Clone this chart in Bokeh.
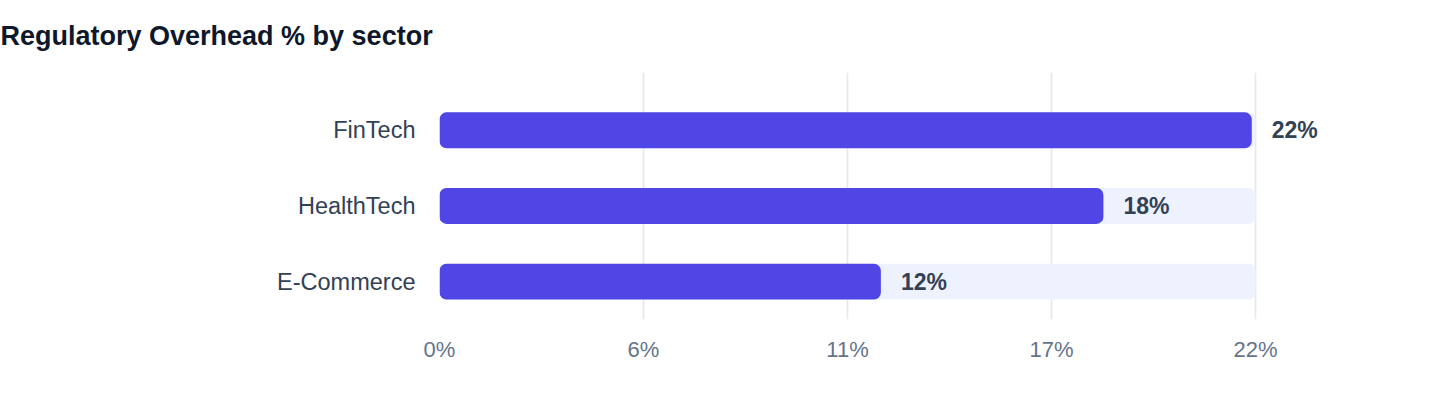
from bokeh.plotting import figure
from bokeh.models import ColumnDataSource, FixedTicker, Range1d
from bokeh.embed import file_html
from bokeh.resources import INLINE
from bokeh.core.properties import value

# ---- data ----
categories = ["FinTech", "HealthTech", "E-Commerce"]
values = [21.9, 17.9, 11.9]
track_max = 22
x_ticks = [0, 5.5, 11, 16.5, 22]
x_tick_labels = ["0%", "6%", "11%", "17%", "22%"]
title_text = "Regulatory Overhead % by sector"

# ---- layout ----
W, H = 1424, 392
border_left, border_top = 439, 71
frame_h = 248
border_bottom = H - border_top - frame_h
px_per_unit = 816 / track_max
frame_w = 946
border_right = W - border_left - frame_w
x_end = frame_w / px_per_unit
row_px = 76
y_start = -0.5
y_end = y_start + frame_h / row_px

n = len(categories)
ypos = [n - 1 - i for i in range(n)]
labels = [f"{round(v)}%" for v in values]

src = ColumnDataSource(dict(y=ypos, v=values, track=[track_max] * n, lab=labels))

p = figure(width=W, height=H, output_backend="svg", toolbar_location=None,
           x_range=Range1d(0, x_end), y_range=Range1d(y_start, y_end),
           min_border_left=border_left, min_border_right=border_right,
           min_border_top=border_top, min_border_bottom=border_bottom)

bh = 36 / row_px
p.hbar(y="y", left=0, right="track", height=bh, source=src,
       fill_color="#eef2ff", line_color=None, border_radius=7)
p.hbar(y="y", left=0, right="v", height=bh, source=src,
       fill_color="#4f46e5", line_color=None, border_radius=7)
p.text(x="v", y="y", text="lab", source=src, x_offset=20,
       text_align="left", text_baseline="middle",
       text_font=value("Liberation Sans"), text_font_style="bold",
       text_font_size="23px", text_color="#334155")

# axes
xa = p.xaxis[0]
xa.ticker = FixedTicker(ticks=x_ticks)
xa.major_label_overrides = {t: l for t, l in zip(x_ticks, x_tick_labels)}
xa.axis_line_color = None
xa.major_tick_line_color = None
xa.minor_tick_line_color = None
xa.major_label_text_font = "Liberation Sans"
xa.major_label_text_font_size = "22px"
xa.major_label_text_color = "#64748b"
xa.major_label_standoff = 11

ya = p.yaxis[0]
ya.ticker = FixedTicker(ticks=ypos)
ya.major_label_overrides = {y: c for y, c in zip(ypos, categories)}
ya.axis_line_color = None
ya.major_tick_line_color = None
ya.minor_tick_line_color = None
ya.major_label_text_font = "Liberation Sans"
ya.major_label_text_font_size = "23.5px"
ya.major_label_text_color = "#334155"
ya.major_label_standoff = 18

p.xgrid.ticker = FixedTicker(ticks=x_ticks)
p.xgrid.grid_line_color = "#e2e8f0"
p.xgrid.grid_line_width = 1.6
p.ygrid.grid_line_color = None
p.outline_line_color = None

p.title.text = title_text
p.title.align = "left"
p.title.vertical_align = "top"
p.title.offset = -border_left
p.title.standoff = 40
p.title.text_font = "Liberation Sans"
p.title.text_font_size = "27px"
p.title.text_font_style = "bold"
p.title.text_color = "#0f172a"

open("out.html", "w").write(file_html(p, INLINE))
